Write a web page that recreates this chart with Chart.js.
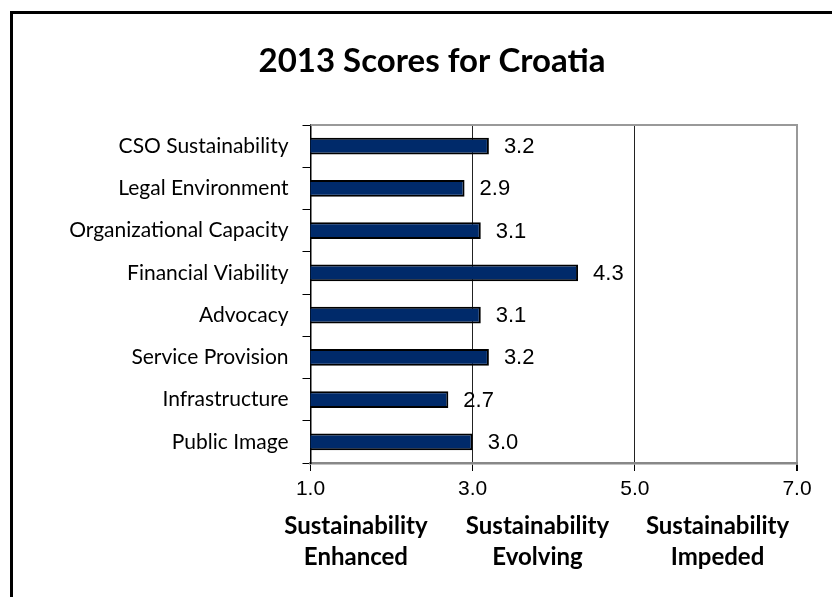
<!DOCTYPE html>
<html>
<head>
<meta charset="utf-8">
<script src="https://cdn.jsdelivr.net/npm/chart.js@4/dist/chart.umd.min.js"></script>
<style>
  body { margin: 0; background: #fff; overflow: hidden; }
  #wrap { position: relative; width: 832px; height: 597px; }
  #frame { position: absolute; left: 10px; top: 11px; width: 900px; height: 700px; border: 3px solid #000; }
  #chart { position: absolute; left: 0; top: 0; }
</style>
</head>
<body>
<div id="wrap">
  <div id="frame"></div>
  <canvas id="chart" width="832" height="597"></canvas>
</div>
<script>
// dati
const titolo = '2013 Scores for Croatia';
const dimensioni = ['CSO Sustainability', 'Legal Environment', 'Organizational Capacity', 'Financial Viability',
  'Advocacy', 'Service Provision', 'Infrastructure', 'Public Image'];
const punteggi = [3.2, 2.9, 3.1, 4.3, 3.1, 3.2, 2.7, 3.0];
const tacche = [1, 3, 5, 7];
const fasce = [['Sustainability', 'Enhanced'], ['Sustainability', 'Evolving'], ['Sustainability', 'Impeded']];

const ctx = document.getElementById('chart');

// etichette dei valori a destra delle barre
const etichetteValori = {
  id: 'etichetteValori',
  afterDatasetsDraw(chart) {
    const c = chart.ctx;
    const meta = chart.getDatasetMeta(0);
    c.save();
    c.font = '22px "Liberation Sans", Arial, sans-serif';
    c.fillStyle = '#000';
    c.textAlign = 'left';
    c.textBaseline = 'middle';
    meta.data.forEach((bar, i) => {
      c.fillText(punteggi[i].toFixed(1), bar.x + 15, bar.y + 1);
    });
    c.restore();
  }
};

// bordo superiore e testi sotto l'asse x
const extra = {
  id: 'extra',
  afterDraw(chart) {
    const c = chart.ctx;
    const area = chart.chartArea;
    const x = chart.scales.x;
    c.save();
    c.strokeStyle = '#999';
    c.lineWidth = 2;
    c.beginPath();
    c.moveTo(area.left, area.top);
    c.lineTo(area.right + 1, area.top);
    c.stroke();

    c.font = 'bold 24px Lato, sans-serif';
    c.fillStyle = '#000';
    c.textAlign = 'center';
    c.textBaseline = 'middle';
    const centri = [1.56, 3.8, 6.02];
    fasce.forEach((righe, i) => {
      const px = x.getPixelForValue(centri[i]);
      righe.forEach((t, j) => {
        c.fillText(t, px, area.bottom + 63 + j * 31);
      });
    });
    c.restore();
  }
};

new Chart(ctx, {
  type: 'bar',
  data: {
    labels: dimensioni,
    datasets: [{
      data: punteggi,
      backgroundColor: '#002A6A',
      borderColor: '#000',
      borderWidth: 2,
      borderSkipped: false,
      barPercentage: 0.4,
      categoryPercentage: 1
    }]
  },
  options: {
    indexAxis: 'y',
    responsive: false,
    animation: false,
    layout: { padding: { left: 67, right: 35, top: 42, bottom: 74 } },
    plugins: {
      legend: { display: false },
      tooltip: { enabled: false },
      title: {
        display: true,
        text: titolo,
        color: '#000',
        font: { family: 'Lato', size: 33, weight: 'bold', lineHeight: 1.2 },
        padding: { top: 0, bottom: 43.4 }
      }
    },
    scales: {
      x: {
        type: 'linear',
        min: 1,
        max: 7,
        afterBuildTicks(scale) {
          scale.ticks = tacche.map(v => ({ value: v }));
        },
        afterFit(scale) { scale.height = 60; },
        ticks: {
          color: '#000',
          padding: 6,
          font: { family: '"Liberation Sans", Arial', size: 21 },
          callback: v => Number(v).toFixed(1)
        },
        grid: {
          color: c => c.tick && c.tick.value === 7 ? '#999' : (c.tick && c.tick.value === 1 ? 'transparent' : '#222'),
          lineWidth: c => c.tick && c.tick.value === 7 ? 2 : 1,
          tickColor: '#000',
          tickLength: 8
        },
        border: { color: '#888', width: 2.5 }
      },
      y: {
        afterFit(scale) { scale.width = 310.5 - 67; },
        ticks: {
          color: '#000',
          padding: 14,
          font: { family: 'Lato', size: 21 }
        },
        grid: {
          drawOnChartArea: false,
          tickColor: '#000',
          tickLength: 8,
          offset: true
        },
        border: { color: '#000', width: 1.5 }
      }
    }
  },
  plugins: [etichetteValori, extra]
});
</script>
</body>
</html>
